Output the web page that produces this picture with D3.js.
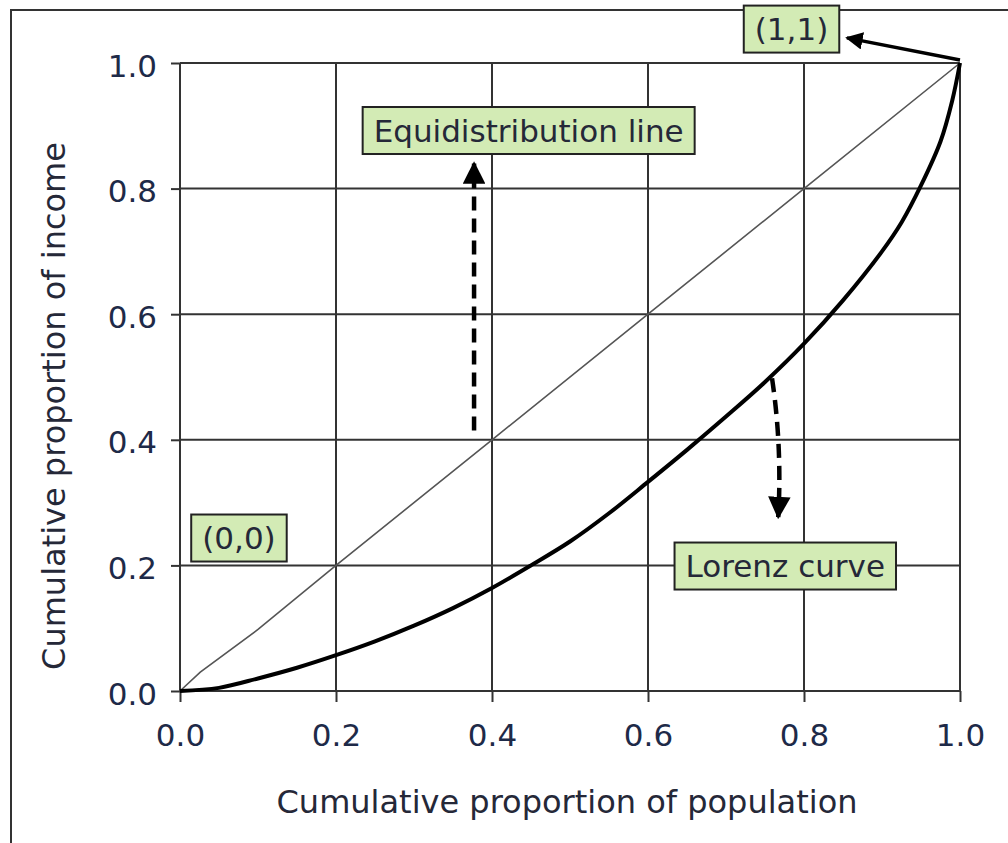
<!DOCTYPE html>
<html lang="en"><head><meta charset="UTF-8">
<title>Lorenz curve</title>
<style type="text/css">
	body { margin: 0; background: #fff; }
	svg text { font-family: 'DejaVu Sans', Verdana, sans-serif; font-size: 31px; fill: #252838; }
	.tick text { fill: #1e2a48; }
	.title { font-size: 32px; }
	.grid line, .frame { stroke: #333; stroke-width: 2; fill: none; }
</style>
<script src="https://d3js.org/d3.v7.min.js" charset="utf-8"></script>
</head>
<body>
<div id="chart"></div>
<script type="text/javascript">
	// values
	var tickValues = [0, 0.2, 0.4, 0.6, 0.8, 1.0];
	var lorenzPop    = [0, 0.05, 0.1, 0.15, 0.2, 0.25, 0.3, 0.35, 0.4, 0.45, 0.5, 0.55, 0.6, 0.65, 0.7, 0.75, 0.8, 0.85, 0.9, 0.925, 0.95, 0.975, 0.99, 1.0];
	var lorenzIncome = [0, 0.005, 0.02, 0.037, 0.057, 0.079, 0.104, 0.132, 0.164, 0.2, 0.238, 0.283, 0.333, 0.384, 0.437, 0.492, 0.553, 0.622, 0.70, 0.746, 0.805, 0.875, 0.94, 1.0];
	var equalPop    = [0, 0.026, 0.1, 0.2, 0.4, 0.6, 0.8, 1.0];
	var equalIncome = [0, 0.03, 0.098, 0.2, 0.4, 0.6, 0.8, 1.0];
	var labels = [
		{ text: "(1,1)", cx: 0.784, cy: 1.054 },
		{ text: "Equidistribution line", cx: 0.447, cy: 0.8925 },
		{ text: "(0,0)", cx: 0.0756, cy: 0.2436 },
		{ text: "Lorenz curve", cx: 0.776, cy: 0.199 }
	];

	var W = 1008, H = 843;
	var svg = d3.select("#chart").append("svg")
		.attr("width", W).attr("height", H);

	var defs = svg.append("defs");
	defs.append("marker")
		.attr("id", "head")
		.attr("viewBox", "0 0 10 10")
		.attr("refX", 9).attr("refY", 5)
		.attr("markerWidth", 5).attr("markerHeight", 5)
		.attr("markerUnits", "strokeWidth")
		.attr("orient", "auto")
		.append("path").attr("d", "M0,0L10,5L0,10Z").attr("fill", "#000");

	// outer frame, runs off the right and bottom edge
	svg.append("rect").attr("class", "frame")
		.attr("x", 11).attr("y", 10).attr("width", 1100).attr("height", 1000);

	var x = d3.scaleLinear().domain([0, 1]).range([180, 960]);
	var y = d3.scaleLinear().domain([0, 1]).range([691, 63]);

	var grid = svg.append("g").attr("class", "grid");
	grid.selectAll(".gx").data(tickValues).enter().append("line")
		.attr("x1", d => x(d)).attr("x2", d => x(d))
		.attr("y1", y(0)).attr("y2", y(1));
	grid.selectAll(".gy").data(tickValues).enter().append("line")
		.attr("y1", d => y(d)).attr("y2", d => y(d))
		.attr("x1", x(0)).attr("x2", x(1));

	var fmt = d3.format(".1f");
	var gx = svg.append("g").attr("transform", "translate(0," + y(0) + ")")
		.call(d3.axisBottom(x).tickValues(tickValues).tickFormat(fmt).tickSize(11).tickPadding(22));
	var gy = svg.append("g").attr("transform", "translate(" + x(0) + ",0)")
		.call(d3.axisLeft(y).tickValues(tickValues).tickFormat(fmt).tickSize(9).tickPadding(14));
	[gx, gy].forEach(function (g) {
		g.attr("font-size", null).attr("font-family", null);
		g.select(".domain").remove();
		g.selectAll(".tick line").attr("stroke", "#333").attr("stroke-width", 2);
	});
	gy.selectAll(".tick text").attr("dy", "0.42em");

	var line = d3.line().x(d => x(d[0])).y(d => y(d[1]));

	svg.append("path")
		.datum(d3.zip(equalPop, equalIncome))
		.attr("d", line)
		.attr("fill", "none").attr("stroke", "#555").attr("stroke-width", 1.6);

	svg.append("path")
		.datum(d3.zip(lorenzPop, lorenzIncome))
		.attr("d", d3.line().curve(d3.curveCatmullRom).x(d => x(d[0])).y(d => y(d[1])))
		.attr("fill", "none").attr("stroke", "#000").attr("stroke-width", 4);

	// arrows
	svg.append("line")
		.attr("x1", x(1)).attr("y1", y(1) - 3)
		.attr("x2", x(0.855)).attr("y2", y(1.04))
		.attr("stroke", "#000").attr("stroke-width", 3.5)
		.attr("marker-end", "url(#head)");

	svg.append("line")
		.attr("x1", x(0.377)).attr("y1", y(0.415))
		.attr("x2", x(0.377)).attr("y2", y(0.84))
		.attr("stroke", "#000").attr("stroke-width", 4.5)
		.attr("stroke-dasharray", "14,8")
		.attr("marker-end", "url(#head)");

	svg.append("path")
		.attr("d", "M" + x(0.759) + "," + y(0.498) +
			"Q" + x(0.772) + "," + y(0.39) + " " + x(0.767) + "," + y(0.277))
		.attr("fill", "none").attr("stroke", "#000").attr("stroke-width", 4.5)
		.attr("stroke-dasharray", "14,8")
		.attr("marker-end", "url(#head)");

	// label boxes
	var lab = svg.selectAll(".lab").data(labels).enter().append("g")
		.attr("class", "lab")
		.attr("transform", d => "translate(" + x(d.cx) + "," + y(d.cy) + ")");
	lab.append("rect")
		.attr("fill", "#d3ebb5").attr("stroke", "#222").attr("stroke-width", 2);
	lab.append("text")
		.attr("text-anchor", "middle").attr("dy", "0.36em")
		.text(d => d.text);
	lab.each(function () {
		var g = d3.select(this);
		var w = g.select("text").node().getComputedTextLength() + 22;
		g.select("rect").attr("x", -w / 2).attr("y", -23.5).attr("width", w).attr("height", 47);
	});

	// axis titles
	svg.append("text").attr("class", "title")
		.attr("x", (x(0) + x(1)) / 2 - 3).attr("y", 813)
		.attr("text-anchor", "middle")
		.text("Cumulative proportion of population");
	svg.append("text").attr("class", "title")
		.attr("transform", "translate(65,406) rotate(-90)")
		.attr("text-anchor", "middle")
		.text("Cumulative proportion of income");
</script>
</body></html>
